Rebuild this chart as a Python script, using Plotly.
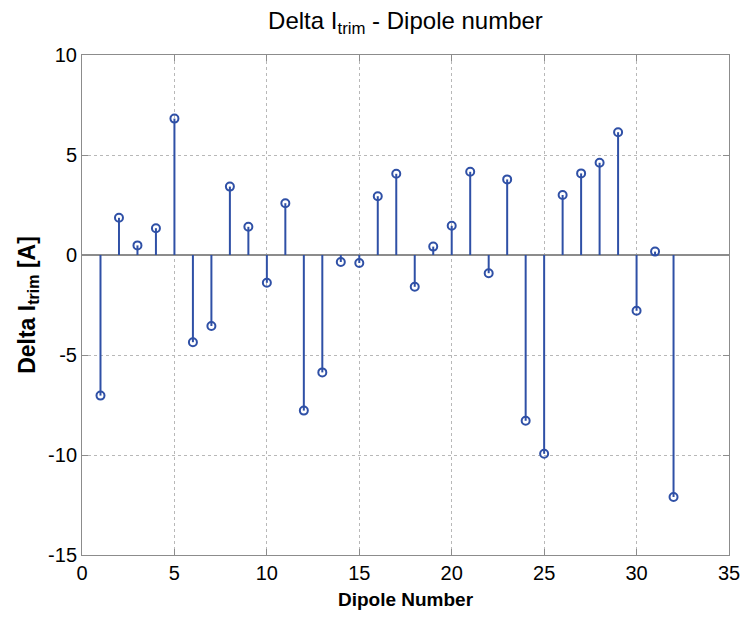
import plotly.graph_objects as go

dipole = list(range(1, 33))
delta_itrim = [-7.03, 1.86, 0.48, 1.34, 6.82, -4.36, -3.55, 3.42, 1.41, -1.39,
               2.59, -7.78, -5.87, -0.35, -0.40, 2.94, 4.06, -1.59, 0.42, 1.46,
               4.16, -0.91, 3.78, -8.29, -9.94, 3.00, 4.08, 4.61, 6.14, -2.79,
               0.17, -12.1]
x_ticks = [0, 5, 10, 15, 20, 25, 30, 35]
y_ticks = [-15, -10, -5, 0, 5, 10]
y_tick_labels = ["-15", "-10", "-5", "0", "5", "10"]

color = "#2f50a6"
font = "Liberation Sans, Arial, Helvetica, sans-serif"

stem_x, stem_y = [], []
for xv, yv in zip(dipole, delta_itrim):
    stem_x += [xv, xv, None]
    stem_y += [0, yv, None]

fig = go.Figure()
fig.add_trace(go.Scatter(x=stem_x, y=stem_y, mode="lines",
                         line=dict(color=color, width=2), hoverinfo="skip",
                         showlegend=False))
fig.add_trace(go.Scatter(x=dipole, y=delta_itrim, mode="markers",
                         marker=dict(symbol="circle-open", size=8,
                                     color=color, line=dict(width=2)),
                         showlegend=False))

axis_common = dict(showline=True, linecolor="#8c8c8c", linewidth=1,
                   mirror="ticks", ticks="inside", ticklen=6,
                   tickcolor="#8c8c8c", showgrid=True, gridcolor="#b8b8b8",
                   griddash="dot", gridwidth=1, automargin=False,
                   tickfont=dict(family=font, size=20, color="#000"))

fig.update_layout(
    width=744, height=617,
    margin=dict(l=82, r=15, t=55, b=62),
    paper_bgcolor="white", plot_bgcolor="white",
    title=dict(text="Delta I<sub>trim</sub> - Dipole number",
               x=0.5, xref="paper", xanchor="center",
               y=0.98, yref="container", yanchor="top",
               font=dict(family=font, size=24, color="#000")),
    xaxis=dict(range=[0, 35], tickvals=x_ticks, zeroline=False,
               title=dict(text="<b>Dipole Number</b>", standoff=9,
                          font=dict(family=font, size=19, color="#000")),
               **axis_common),
    yaxis=dict(range=[-15, 10], tickvals=y_ticks, ticktext=y_tick_labels,
               zeroline=True, zerolinecolor="#8c8c8c", zerolinewidth=1.5,
               title=dict(text="<b>Delta I<sub>trim</sub> [A]</b>", standoff=6,
                          font=dict(family=font, size=23, color="#000")),
               **axis_common),
)

fig.write_html("out.html",
               config={"displayModeBar": False},
               post_script="document.body.style.margin='0';"
                           "document.body.style.overflow='hidden';")
